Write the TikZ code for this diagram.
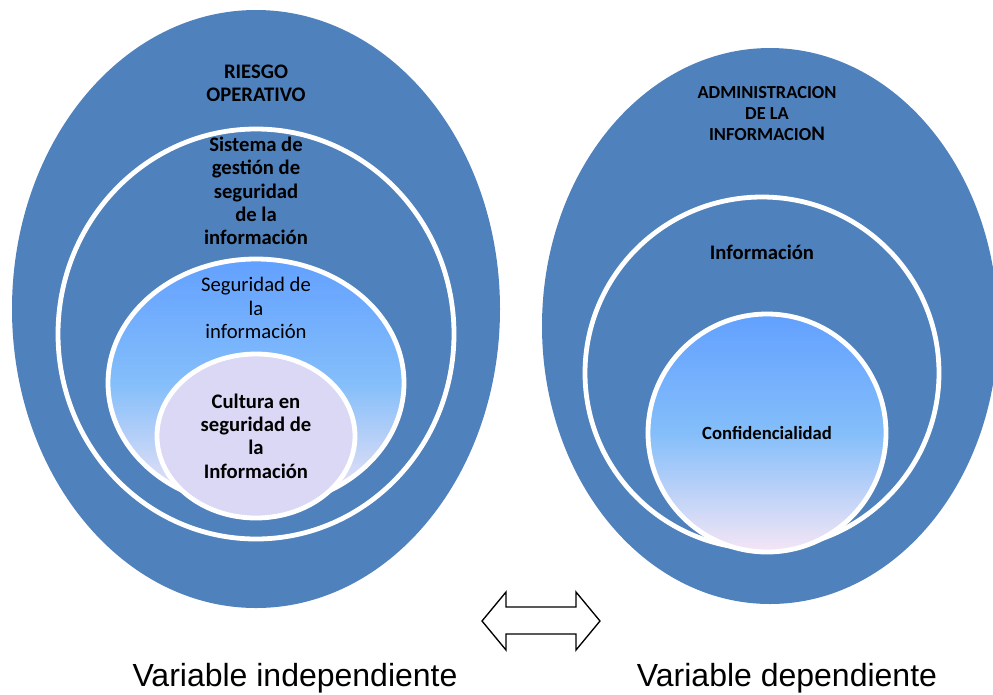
\documentclass[tikz,border=0pt]{standalone}
\usepackage{fontspec}
\setmainfont{Carlito}
\newfontfamily\arialfont{Liberation Sans}
\definecolor{obl}{HTML}{4F81BD}
\definecolor{gtop}{HTML}{62A0FF}
\definecolor{gmid}{HTML}{84BEFA}
\definecolor{gbot}{HTML}{F5E6F5}
\definecolor{lav}{HTML}{DAD8F5}
\tikzset{
  ring/.style={fill=obl, draw=white, line width=3.6pt},
  grad/.style={draw=white, line width=3.6pt, top color=gtop, bottom color=gbot, middle color=gmid},
  lbl/.style={align=center, inner sep=0pt, text=black},
  bigtxt/.style={lbl, font=\bfseries\fontsize{15.5}{17.5}\selectfont},
  captxt/.style={font=\arialfont\fontsize{24}{28}\selectfont, inner sep=0pt}
}
\begin{document}
\begin{tikzpicture}[x=0.75pt,y=-0.75pt]
\useasboundingbox (0,0) rectangle (993,694);
% left group
\path[fill=obl] (256,309) ellipse [x radius=244, y radius=299];
\path[ring] (256,334) ellipse [x radius=198, y radius=205];
\path[grad] (256,383) ellipse [x radius=148, y radius=124];
\path[fill=lav, draw=white, line width=3.6pt] (256,436) ellipse [x radius=99, y radius=82];
% right group
\path[fill=obl] (770,326) ellipse [x radius=228, y radius=278];
\path[ring] (762,373) ellipse [x radius=177, y radius=176];
\path[grad] (767,433) ellipse [x radius=119, y radius=119];
% texts
\node[bigtxt] (riesgo) at (256,83) {RIESGO\\OPERATIVO};
\node[bigtxt] (sgsi) at (256,191) {Sistema de\\gestión de\\seguridad\\de la\\información};
\node[lbl, font=\fontsize{15.5}{17.5}\selectfont] (seg) at (256,308) {Seguridad de\\la\\información};
\node[bigtxt] (cult) at (256,436) {Cultura en\\seguridad de\\la\\Información};
\node[lbl, font=\bfseries\fontsize{13.8}{15.75}\selectfont] (adm) at (767,114) {ADMINISTRACION\\DE LA\\INFORMACIO{\fontsize{15.5}{15.75}\selectfont N}};
\node[lbl, font=\bfseries\fontsize{15.5}{17.5}\selectfont] (info) at (762,252) {Información};
\node[lbl, font=\bfseries\fontsize{14}{17}\selectfont] (conf) at (767,433) {Confidencialidad};
% double arrow
\draw[black, line width=1pt, fill=white, line join=miter]
  (482,621) -- (506,592) -- (506,607) -- (576,607) -- (576,592) -- (600,621)
  -- (576,650) -- (576,634) -- (506,634) -- (506,650) -- cycle;
\node[captxt] (vi) at (295,678) {Variable independiente};
\node[captxt] (vd) at (787,678) {Variable dependiente};
\end{tikzpicture}
\end{document}
